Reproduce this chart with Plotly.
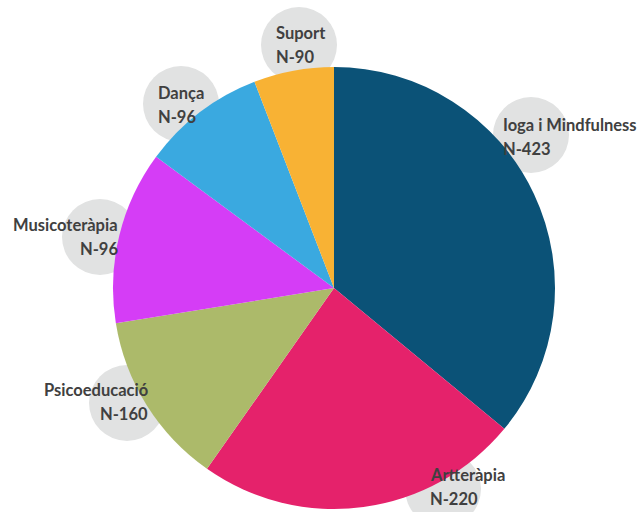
import plotly.graph_objects as go

# Data
categories = ["Ioga i Mindfulness", "Artteràpia", "Psicoeducació", "Musicoteràpia", "Dança", "Suport"]
shares = [36.0, 23.75, 12.7, 12.67, 9.03, 5.86]
n_labels = ["N-423", "N-220", "N-160", "N-96", "N-96", "N-90"]
colors = ["#0b5277", "#e5226b", "#acba6a", "#d53df6", "#3aa9e0", "#f8b234"]

W, H = 643, 512
CX, CY, R = 334, 288, 221

# label placement (pixels from top-left): circle centre, text anchor x, text centre y, side
label_layout = [
    (531, 135, 502, 137, "left"),
    (443, 489, 429, 487, "left"),
    (127, 403, 149, 402, "right"),
    (100, 237, 119, 237, "right"),
    (181, 104, 157, 105, "left"),
    (299, 45, 275, 45, "left"),
]

fig = go.Figure()
fig.add_trace(go.Pie(
    labels=categories, values=shares, sort=False, direction="clockwise", rotation=0,
    marker=dict(colors=colors, line=dict(width=0)), textinfo="none", hoverinfo="label",
    showlegend=False,
    domain=dict(x=[(CX - R) / W, (CX + R) / W], y=[(H - CY - R) / H, (H - CY + R) / H]),
))

shapes = []
annotations = []
font = dict(family="Lato", size=16.5, color="#404040")
for (cxp, cyp, tx, ty, side), name, n in zip(label_layout, categories, n_labels):
    shapes.append(dict(
        type="circle", xref="paper", yref="paper", xsizemode="pixel", ysizemode="pixel",
        xanchor=cxp / W, yanchor=1 - cyp / H, x0=-38, x1=38, y0=-38, y1=38,
        fillcolor="#e1e2e2", line=dict(width=0), layer="below",
    ))
    for txt, dy in ((name, -12), (n, 12)):
        annotations.append(dict(
            text="<b>" + txt + "</b>", xref="paper", yref="paper",
            x=tx / W, y=1 - (ty + dy) / H, xanchor=side, yanchor="middle",
            showarrow=False, font=font, borderpad=0,
        ))

fig.update_layout(
    width=W, height=H, margin=dict(l=0, r=0, t=0, b=0),
    paper_bgcolor="white", plot_bgcolor="white",
    shapes=shapes, annotations=annotations,
)
fig.write_html("out.html", config={"displayModeBar": False},
               post_script="document.body.style.margin='0';document.body.style.overflow='hidden';")
